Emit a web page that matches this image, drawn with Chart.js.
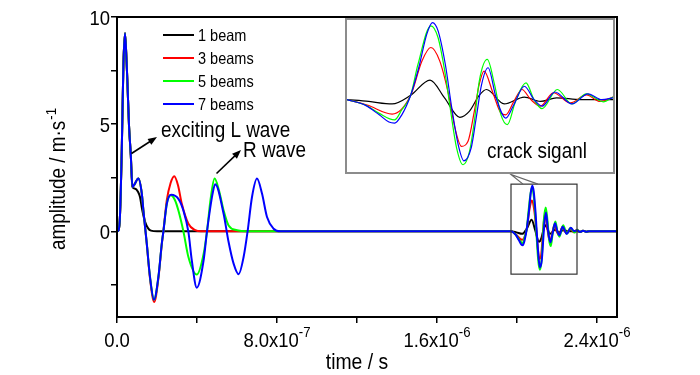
<!DOCTYPE html>
<html>
<head>
<meta charset="utf-8">
<script src="https://cdn.jsdelivr.net/npm/chart.js@4.4.0/dist/chart.umd.min.js"></script>
<style>
  body { margin: 0; background: #fff; }
  #wrap { position: relative; width: 700px; height: 375px; }
  #main { display: block; }
  #inset { position: absolute; left: 345px; top: 18px; width: 270px; height: 156px;
           box-sizing: border-box; border: 2px solid #8c8c8c; background: #fff; }
  #zoomed { display: block; }
</style>
</head>
<body>
<div id="wrap">
  <canvas id="main" width="700" height="375"></canvas>
  <div id="inset"><canvas id="zoomed" width="266" height="152"></canvas></div>
</div>
<script>
// series labels and colours
const seriesNames = ["1 beam", "3 beams", "5 beams", "7 beams"];
const seriesColors = ["#000000", "#ff0000", "#00ff00", "#0000ff"];

// time in ns, amplitude in m/s
// exciting pulse, shared by all models
const headT = [0, 8, 15, 24, 32, 40, 48, 52, 60, 69, 77];
const headA = [0, 0.05, 0.75, 3.86, 7.76, 9.24, 7.9, 6.98, 4.95, 3.55, 2.07];

// surface waves after the pulse
const blackT = [88, 105, 115, 125, 140, 155, 170, 200];
const blackA = [2.0, 1.85, 1.6, 1.05, 0.45, 0.15, 0.03, 0];

const redT = [85, 107, 124, 132, 149, 165, 186, 207, 224, 232, 249, 268, 286, 305, 324, 357, 391, 420];
const redA = [2.15, 2.46, 1.76, 0.97, -0.59, -2.2, -3.3, -2.2, -0.6, 0, 1.45, 2.25, 2.57, 2.15, 1.28, 0.35, 0.05, 0];

const greenT = [85, 107, 124, 132, 149, 165, 185, 207, 224, 232, 249, 268, 290, 307, 332, 357, 399, 433, 450, 468, 488, 510, 533, 558, 600, 650];
const greenA = [2.15, 2.46, 1.76, 0.97, -0.59, -2.13, -3.19, -2.13, -0.57, 0, 1.28, 1.68, 1.45, 0.97, 0, -1.2, -2.02, -1.06, 0, 1.5, 2.46, 1.9, 0.97, 0.27, 0.05, 0];

const blueT = [85, 107, 124, 132, 149, 165, 185, 207, 224, 232, 249, 271, 307, 332, 357, 374, 399, 433, 450, 478, 491, 533, 558, 583, 608, 633, 653, 675, 700, 725, 750, 783, 817];
const blueA = [2.15, 2.46, 1.76, 0.97, -0.59, -2.13, -3.19, -2.13, -0.57, 0, 1.28, 1.7, 1.51, 0.97, -0.03, -1.36, -2.63, -1.36, 0, 1.76, 2.2, 0.82, -0.5, -1.51, -2.0, -1.2, 0, 1.6, 2.46, 1.76, 0.67, 0.12, 0];

// crack signal
const crackBlackT = [1970, 1997, 2026, 2049, 2073, 2091, 2110, 2122, 2134, 2143, 2165, 2190, 2210, 2230, 2260, 2300];
const crackBlackA = [0, -0.05, -0.12, 0.12, 0.54, 0.05, -0.49, -0.32, 0.12, 0.28, -0.12, 0.07, -0.05, 0.05, 0, 0];

const crackRedT = [1970, 1995, 2026, 2049, 2063, 2074, 2085, 2096, 2104, 2112, 2120, 2128, 2134, 2140, 2151, 2161, 2167, 2177, 2187, 2198, 2210, 2226, 2247, 2267, 2284, 2300];
const crackRedA = [0, -0.15, -0.4, 0.12, 1.07, 1.44, 1.07, 0.14, -0.79, -1.29, -1.16, -0.32, 0.42, 0.79, 0.19, -0.37, -0.42, -0.05, 0.28, 0, -0.18, 0.19, -0.09, 0.13, -0.05, 0.07];

const crackGreenT = [1970, 1993, 2010, 2029, 2038, 2049, 2058, 2074, 2083, 2092, 2098, 2106, 2114, 2122, 2128, 2134, 2144, 2153, 2161, 2169, 2179, 2192, 2202, 2212, 2231, 2249, 2267, 2288, 2300];
const crackGreenA = [0, -0.15, -0.38, -0.56, -0.28, 0.12, 0.97, 2.04, 1.71, 0.69, -0.23, -1.34, -1.8, -1.43, -0.6, 0.5, 1.11, 0.42, -0.42, -0.69, -0.05, 0.46, 0, -0.25, 0.28, -0.12, 0.16, -0.06, 0.07];

const crackBlueT = [1970, 1993, 2010, 2022, 2029, 2038, 2049, 2059, 2069, 2076, 2083, 2092, 2100, 2108, 2115, 2124, 2130, 2137, 2145, 2155, 2167, 2177, 2190, 2202, 2212, 2228, 2249, 2269, 2286, 2300];
const crackBlueA = [0, -0.16, -0.42, -0.62, -0.65, -0.42, 0.12, 0.88, 1.81, 2.13, 1.9, 0.97, -0.23, -1.25, -1.69, -1.34, -0.55, 0.42, 0.88, 0.05, -0.51, -0.14, 0.37, 0, -0.18, 0.21, -0.12, 0.16, 0, 0.05];

// small ripple after the crack signal
const tailT = [2315, 2330, 2345, 2360, 2500];
const tailA = [-0.03, 0.03, -0.02, 0, 0];

// axes
const xTicks = [0, 400, 800, 1200, 1600, 2000, 2400];
const xLabelled = [0, 800, 1600, 2400];
const yTicks = [-2.5, 0, 2.5, 5, 7.5, 10];
const yLabelled = [0, 5, 10];
// zoomed window of the inset
const zoomT = [1970, 2300];
const zoomA = [-2.0, 2.2];

const SX = 0.88;
const FONT = '"Liberation Sans", Arial, sans-serif';

function toPoints(pairs) {
  const pts = [];
  pairs.forEach(([ts, as]) => {
    for (let i = 0; i < ts.length; i++) pts.push({ x: ts[i], y: as[i] });
  });
  return pts;
}

const early = [[blackT, blackA], [redT, redA], [greenT, greenA], [blueT, blueA]];
const crack = [[crackBlackT, crackBlackA], [crackRedT, crackRedA], [crackGreenT, crackGreenA], [crackBlueT, crackBlueA]];

function drawText(ctx, s, x, y, size, align) {
  ctx.save();
  ctx.font = size + 'px ' + FONT;
  ctx.textBaseline = 'alphabetic';
  ctx.textAlign = 'left';
  ctx.fillStyle = '#000';
  const w = ctx.measureText(s).width * SX;
  let left = x;
  if (align === 'right') left = x - w;
  else if (align === 'center') left = x - w / 2;
  ctx.translate(left, y);
  ctx.scale(SX, 1);
  ctx.fillText(s, 0, 0);
  ctx.restore();
  return w;
}

function textWidth(ctx, s, size) {
  ctx.save();
  ctx.font = size + 'px ' + FONT;
  const w = ctx.measureText(s).width * SX;
  ctx.restore();
  return w;
}

function arrow(ctx, x0, y0, x1, y1) {
  const a = Math.atan2(y1 - y0, x1 - x0);
  ctx.save();
  ctx.strokeStyle = '#000';
  ctx.fillStyle = '#000';
  ctx.lineWidth = 1.6;
  ctx.beginPath();
  ctx.moveTo(x0, y0);
  ctx.lineTo(x1 - 6 * Math.cos(a), y1 - 6 * Math.sin(a));
  ctx.stroke();
  ctx.beginPath();
  ctx.moveTo(x1, y1);
  ctx.lineTo(x1 - 9 * Math.cos(a) + 3.5 * Math.sin(a), y1 - 9 * Math.sin(a) - 3.5 * Math.cos(a));
  ctx.lineTo(x1 - 9 * Math.cos(a) - 3.5 * Math.sin(a), y1 - 9 * Math.sin(a) + 3.5 * Math.cos(a));
  ctx.closePath();
  ctx.fill();
  ctx.restore();
}

function sciLabel(v) {
  if (v === 0) return ['0.0', ''];
  const sec = v * 1e-9;
  const e = Math.floor(Math.log10(sec) + 1e-9);
  const m = sec / Math.pow(10, e);
  return [m.toFixed(1) + 'x10', String(e)];
}

const decorations = {
  id: 'decorations',
  afterDraw(chart) {
    const ctx = chart.ctx;
    const area = chart.chartArea;
    const xs = chart.scales.x;
    const ys = chart.scales.y;

    // frame
    ctx.save();
    ctx.strokeStyle = '#000';
    ctx.lineWidth = 2;
    ctx.strokeRect(area.left, area.top, area.right - area.left, area.bottom - area.top);
    ctx.restore();

    // tick labels
    yLabelled.forEach(v => drawText(ctx, String(v), 110, ys.getPixelForValue(v) + 7.5, 21, 'right'));
    xLabelled.forEach(v => {
      const [base, exp] = sciLabel(v);
      const bw = textWidth(ctx, base, 21);
      const ew = exp ? textWidth(ctx, exp, 15) : 0;
      const left = xs.getPixelForValue(v) - (bw + ew) / 2;
      drawText(ctx, base, left, 347, 21, 'left');
      if (exp) drawText(ctx, exp, left + bw, 337, 15, 'left');
    });

    // axis titles
    drawText(ctx, 'time / s', 357, 369, 22, 'center');
    ctx.save();
    ctx.translate(65, 250);
    ctx.rotate(-Math.PI / 2);
    const tw = drawText(ctx, 'amplitude / m\u00b7s', 0, 0, 21.5, 'left');
    drawText(ctx, '-1', tw + 1, -9, 15, 'left');
    ctx.restore();

    // legend
    seriesNames.forEach((name, i) => {
      const y = 35 + i * 23;
      ctx.save();
      ctx.strokeStyle = seriesColors[i];
      ctx.lineWidth = 2;
      ctx.beginPath();
      ctx.moveTo(163, y);
      ctx.lineTo(194, y);
      ctx.stroke();
      ctx.restore();
      drawText(ctx, name, 198, y + 6, 16.5, 'left');
    });

    // annotations
    drawText(ctx, 'exciting L wave', 161, 137, 21.5, 'left');
    arrow(ctx, 131.5, 153.5, 157, 137);
    drawText(ctx, 'R wave', 243, 157, 21.5, 'left');
    arrow(ctx, 216.5, 173.5, 241, 150);

    // zoom window and callout
    const bx0 = xs.getPixelForValue(zoomT[0]);
    const bx1 = xs.getPixelForValue(zoomT[1]);
    const by0 = ys.getPixelForValue(zoomA[1]);
    const by1 = ys.getPixelForValue(zoomA[0]);
    ctx.save();
    ctx.strokeStyle = '#333';
    ctx.lineWidth = 1.2;
    ctx.strokeRect(bx0, by0, bx1 - bx0, by1 - by0);
    ctx.strokeStyle = '#666';
    ctx.beginPath();
    ctx.moveTo(bx0 + 12, by0);
    ctx.lineTo(bx0, 174.5);
    ctx.lineTo(bx0 + 27, by0);
    ctx.stroke();
    ctx.restore();
  }
};

const mainDatasets = seriesNames.map((name, i) => ({
  label: name,
  data: toPoints([[headT, headA], early[i], crack[i], [tailT, tailA]]),
  borderColor: seriesColors[i],
  borderWidth: 2,
  pointRadius: 0,
  fill: false,
  cubicInterpolationMode: 'monotone',
  order: seriesNames.length - 1 - i
}));

new Chart(document.getElementById('main'), {
  type: 'line',
  data: { datasets: mainDatasets },
  options: {
    responsive: false,
    animation: false,
    layout: { padding: { top: 17, right: 83, left: 0, bottom: 0 } },
    plugins: { legend: { display: false }, tooltip: { enabled: false } },
    scales: {
      x: {
        type: 'linear', min: 0, max: 2500,
        afterBuildTicks: s => { s.ticks = xTicks.map(v => ({ value: v })); },
        afterFit: s => { s.height = 58; },
        ticks: { display: false },
        grid: { display: true, drawOnChartArea: false, drawTicks: true, tickLength: 6, color: '#000', lineWidth: 1.5 },
        border: { display: true, color: '#000', width: 2 }
      },
      y: {
        type: 'linear', min: -4, max: 10,
        afterBuildTicks: s => { s.ticks = yTicks.map(v => ({ value: v })); },
        afterFit: s => { s.width = 117; },
        ticks: { display: false },
        grid: { display: true, drawOnChartArea: false, drawTicks: true, tickLength: 6, color: '#000', lineWidth: 1.5 },
        border: { display: true, color: '#000', width: 2 }
      }
    }
  },
  plugins: [decorations]
});

// inset with the magnified crack signal
const insetLabel = {
  id: 'insetLabel',
  afterDraw(chart) {
    drawText(chart.ctx, 'crack siganl', 140, 138, 21.5, 'left');
  }
};

const insetDatasets = seriesNames.map((name, i) => ({
  label: name,
  data: toPoints([crack[i]]),
  borderColor: seriesColors[i],
  borderWidth: 1.2,
  pointRadius: 0,
  fill: false,
  cubicInterpolationMode: 'monotone',
  order: seriesNames.length - 1 - i
}));

new Chart(document.getElementById('zoomed'), {
  type: 'line',
  data: { datasets: insetDatasets },
  options: {
    responsive: false,
    animation: false,
    layout: { padding: 0 },
    plugins: { legend: { display: false }, tooltip: { enabled: false } },
    scales: {
      x: { type: 'linear', min: zoomT[0], max: zoomT[1], display: false },
      y: { type: 'linear', min: zoomA[0], max: zoomA[1], display: false }
    }
  },
  plugins: [insetLabel]
});
</script>
</body>
</html>
